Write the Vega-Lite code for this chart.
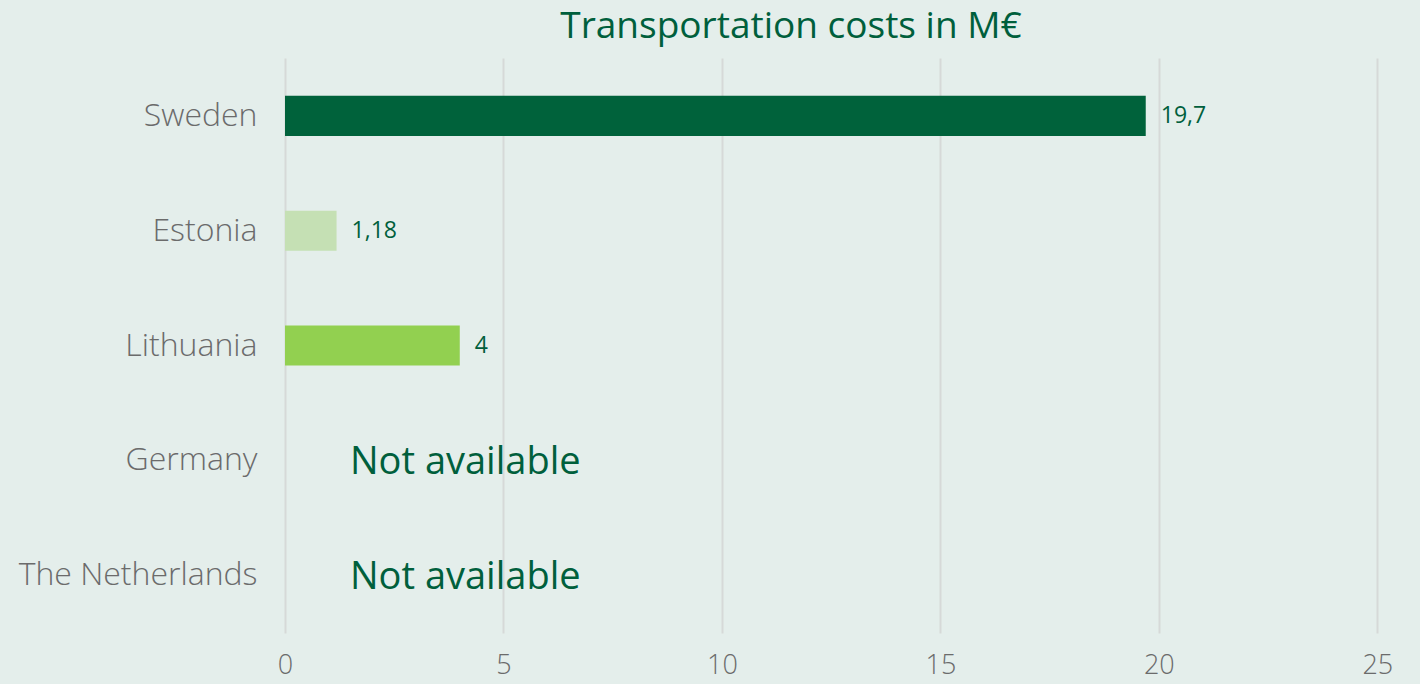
{
  "$schema": "https://vega.github.io/schema/vega-lite/v6.json",
  "width": 1136,
  "height": 575,
  "autosize": {"type": "none"},
  "padding": {"left": 285, "top": 58, "right": 41, "bottom": 51},
  "background": "#E4EEEB",
  "config": {"view": {"stroke": null}, "font": "Open Sans"},
  "title": {"text": "Transportation costs in M€", "color": "#005F3C", "fontSize": 37, "font": "Open Sans", "fontWeight": 400, "anchor": "middle", "dx": -62, "offset": 12},
  "data": {"values": [
    {"country": "Sweden", "cost": 19.7, "label": "19,7", "note": null},
    {"country": "Estonia", "cost": 1.18, "label": "1,18", "note": null},
    {"country": "Lithuania", "cost": 4, "label": "4", "note": null},
    {"country": "Germany", "cost": null, "label": null, "note": "Not available"},
    {"country": "The Netherlands", "cost": null, "label": null, "note": "Not available"}
  ]},
  "encoding": {
    "y": {"field": "country", "type": "nominal", "sort": null,
      "scale": {"paddingInner": 0.65, "paddingOuter": 0.33},
      "axis": {"title": null, "domain": false, "ticks": false, "labelPadding": 28, "labelFontSize": 32, "labelLimit": 400, "labelColor": "#6B6B6B", "labelFont": "Open Sans", "labelFontWeight": 300}}
  },
  "layer": [
    {
      "transform": [{"filter": "datum.cost != null"}],
      "mark": {"type": "bar"},
      "encoding": {
        "x": {"field": "cost", "type": "quantitative", "scale": {"domain": [0, 25]},
          "axis": {"title": null, "values": [0, 5, 10, 15, 20, 25], "domain": false, "ticks": false, "grid": true, "gridColor": "#D6D9D8", "gridWidth": 2, "labelFlush": false, "labelFontSize": 27, "labelColor": "#6B6B6B", "labelPadding": 19, "labelFont": "Open Sans", "labelFontWeight": 300}},
        "color": {"field": "country", "type": "nominal", "scale": {"domain": ["Sweden", "Estonia", "Lithuania"], "range": ["#00623B", "#C5E0B4", "#92D050"]}, "legend": null}
      }
    },
    {
      "transform": [{"filter": "datum.cost != null"}],
      "mark": {"type": "text", "align": "left", "baseline": "middle", "dx": 15, "fontSize": 23, "color": "#005F3C", "font": "Open Sans"},
      "encoding": {
        "x": {"field": "cost", "type": "quantitative"},
        "text": {"field": "label"}
      }
    },
    {
      "transform": [{"filter": "datum.note != null"}],
      "mark": {"type": "text", "align": "left", "baseline": "middle", "dx": 65, "dy": 3, "fontSize": 38, "color": "#005F3C", "font": "Open Sans"},
      "encoding": {
        "x": {"datum": 0},
        "text": {"field": "note"}
      }
    }
  ]
}
